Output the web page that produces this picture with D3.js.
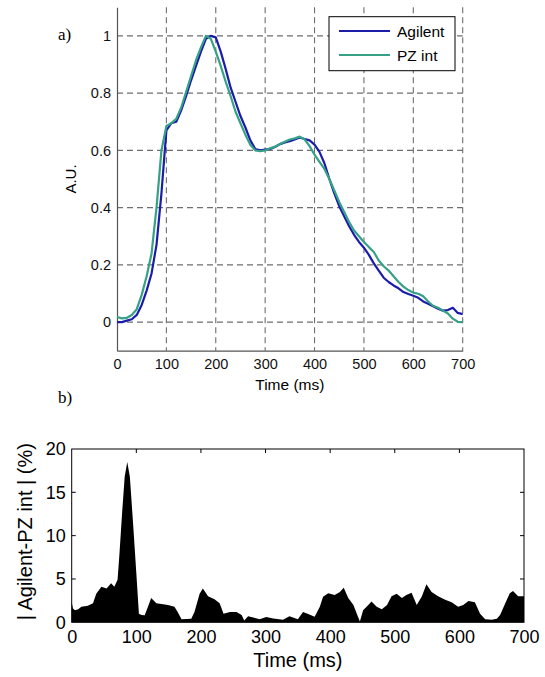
<!DOCTYPE html>
<html><head><meta charset="utf-8">
<script src="https://cdn.jsdelivr.net/npm/d3@7"></script>
<style>body{margin:0;background:#fff}svg{display:block}text{font-family:"Liberation Sans",Arial,sans-serif}</style>
</head><body>
<script>
// ---- Data ----
const timeA = d3.range(0, 701, 10);
const agilent = [0.00,0.00,0.005,0.01,0.025,0.06,0.11,0.17,0.27,0.45,0.67,0.695,0.70,0.74,0.79,0.845,0.895,0.945,0.99,1.0,0.995,0.945,0.885,0.82,0.77,0.72,0.68,0.635,0.605,0.60,0.603,0.605,0.612,0.622,0.628,0.632,0.638,0.645,0.64,0.635,0.62,0.595,0.555,0.50,0.45,0.405,0.37,0.335,0.305,0.28,0.26,0.235,0.205,0.18,0.155,0.14,0.128,0.118,0.105,0.098,0.092,0.085,0.072,0.064,0.055,0.047,0.04,0.042,0.05,0.032,0.028];
const pzInt = [0.018,0.013,0.015,0.025,0.045,0.095,0.16,0.24,0.40,0.60,0.685,0.695,0.71,0.75,0.805,0.86,0.915,0.96,1.0,0.99,0.945,0.895,0.84,0.79,0.735,0.695,0.655,0.62,0.60,0.597,0.60,0.607,0.613,0.622,0.63,0.638,0.642,0.648,0.638,0.615,0.585,0.56,0.535,0.50,0.46,0.42,0.385,0.35,0.32,0.30,0.28,0.262,0.245,0.215,0.195,0.18,0.16,0.14,0.124,0.112,0.103,0.099,0.09,0.072,0.057,0.05,0.04,0.03,0.012,0.001,0.0];
const diffTime = [0,2,5,10,15,25,33,38,46,54,61,66,71,74,78,82,86,90,95,100,104,108,113,118,123,131,139,149,159,164,170,185,190,198,203,211,221,229,235,245,255,263,267,273,281,291,301,312,327,337,350,358,366,376,384,389,397,407,415,421,428,436,442,446,451,459,464,472,480,488,495,503,511,518,526,534,542,549,557,567,578,588,598,606,614,624,632,640,650,658,663,671,678,683,691,699,700];
const diffValue = [2.3,1.6,1.4,1.5,1.8,1.9,2.2,3.3,4.1,3.9,4.5,4.1,4.9,8.0,12.6,16.8,18.5,16.8,11.4,5.7,1.0,0.85,0.8,1.8,2.8,2.2,2.1,2.0,1.8,1.2,0.35,0.4,1.2,3.3,3.9,3.0,2.65,2.2,1.0,1.2,1.2,0.85,0.2,0.7,0.55,0.35,0.6,0.45,0.3,0.7,0.35,1.2,0.95,0.65,1.8,2.95,3.35,3.15,3.5,4.0,2.8,2.0,0.85,0.1,1.4,2.0,2.4,1.8,1.5,2.0,3.0,3.3,2.8,3.15,3.4,2.0,3.0,4.4,3.5,3.0,2.6,2.3,1.8,2.0,2.45,2.3,1.0,0.35,0.3,0.4,0.85,2.2,3.35,3.6,3.0,3.0,3.0];
const seriesNames = ["Agilent","PZ int"];
const seriesColors = ["#1c1cab","#36a187"];
const topXTicks = [0,100,200,300,400,500,600,700];
const topYTicks = [0,0.2,0.4,0.6,0.8,1];
const botXTicks = [0,100,200,300,400,500,600,700];
const botYTicks = [0,5,10,15,20];

const W = 545, H = 677;
const svg = d3.select("body").append("svg").attr("width", W).attr("height", H);

// ---- Top chart ----
const xA = d3.scaleLinear().domain([0,700]).range([117,462.7]);
const yA = d3.scaleLinear().domain([-0.1,1.1]).range([350.7,7.3]);
const gridCol = "#6e6e6e";
const gTop = svg.append("g");
gTop.selectAll(".vg").data(topXTicks.filter(d=>d>0)).enter().append("line")
  .attr("x1", d=>xA(d)).attr("x2", d=>xA(d)).attr("y1", yA(1.1)).attr("y2", yA(-0.1))
  .attr("stroke", gridCol).attr("stroke-dasharray","6,4").attr("stroke-width",1.1);
gTop.selectAll(".hg").data(topYTicks).enter().append("line")
  .attr("x1", xA(0)).attr("x2", xA(700)).attr("y1", d=>yA(d)).attr("y2", d=>yA(d))
  .attr("stroke", gridCol).attr("stroke-dasharray","6,4").attr("stroke-width",1.1);
const axL = d3.axisLeft(yA).tickValues(topYTicks).tickSize(0).tickPadding(6).tickFormat(d=>d3.format("~g")(d));
const axB = d3.axisBottom(xA).tickValues(topXTicks).tickSize(0).tickPadding(8);
const gl = gTop.append("g").attr("transform",`translate(${xA(0)},0)`).call(axL);
const gb = gTop.append("g").attr("transform",`translate(0,${yA(-0.1)})`).call(axB);
[gl,gb].forEach(g=>{
  g.select(".domain").attr("stroke","#555").attr("stroke-width",1.2);
  g.selectAll("text").attr("font-size",14.5).attr("fill","#111").attr("font-family","Liberation Sans, Arial, sans-serif");
});
gTop.append("text").attr("transform",`translate(76,${(yA(1.1)+yA(-0.1))/2}) rotate(-90)`)
  .attr("text-anchor","middle").attr("font-size",15).text("A.U.");
gTop.append("text").attr("x",(xA(0)+xA(700))/2).attr("y",390).attr("text-anchor","middle")
  .attr("font-size",15.5).text("Time (ms)");
const lineA = d3.line().x((d,i)=>xA(timeA[i])).y(d=>yA(d));
[agilent, pzInt].forEach((s,k)=>{
  gTop.append("path").datum(s).attr("d", lineA).attr("fill","none")
    .attr("stroke", seriesColors[k]).attr("stroke-width",2.2).attr("stroke-linejoin","round");
});
const lg = gTop.append("g");
lg.append("rect").attr("x",329).attr("y",16.7).attr("width",126).attr("height",54)
  .attr("fill","#fff").attr("stroke","#000").attr("stroke-width",1);
seriesNames.forEach((n,k)=>{
  const yy = 31 + k*24;
  lg.append("line").attr("x1",339).attr("x2",390).attr("y1",yy).attr("y2",yy)
    .attr("stroke",seriesColors[k]).attr("stroke-width",2.2);
  lg.append("text").attr("x",397).attr("y",yy+5.5).attr("font-size",15.5).text(n);
});
svg.append("text").attr("x",58).attr("y",40)
  .style("font-family","Liberation Serif, serif").attr("font-size",17).text("a)");
svg.append("text").attr("x",58).attr("y",403)
  .style("font-family","Liberation Serif, serif").attr("font-size",17).text("b)");

// ---- Bottom chart ----
const xB = d3.scaleLinear().domain([0,700]).range([71.7,524]);
const yB = d3.scaleLinear().domain([0,20]).range([622.3,449]);
const gBot = svg.append("g");
const area = d3.area().x((d,i)=>xB(diffTime[i])).y0(yB(0)).y1(d=>yB(d));
gBot.append("path").datum(diffValue).attr("d", area).attr("fill","#000");
gBot.append("rect").attr("x",xB(0)).attr("y",yB(20)).attr("width",xB(700)-xB(0)).attr("height",yB(0)-yB(20))
  .attr("fill","none").attr("stroke","#000").attr("stroke-width",1);
const tl = 4;
gBot.selectAll(".tt").data(botXTicks.slice(1,-1)).enter().append("line")
  .attr("x1",d=>xB(d)).attr("x2",d=>xB(d)).attr("y1",yB(20)).attr("y2",yB(20)+tl).attr("stroke","#000");
gBot.selectAll(".rt").data(botYTicks.slice(1,-1)).enter().append("line")
  .attr("x1",xB(700)).attr("x2",xB(700)-tl).attr("y1",d=>yB(d)).attr("y2",d=>yB(d)).attr("stroke","#000");
gBot.selectAll(".lt").data(botYTicks.slice(1,-1)).enter().append("line")
  .attr("x1",xB(0)).attr("x2",xB(0)+tl).attr("y1",d=>yB(d)).attr("y2",d=>yB(d)).attr("stroke","#000");
const bL = d3.axisLeft(yB).tickValues(botYTicks).tickSize(0).tickPadding(6);
const bB = d3.axisBottom(xB).tickValues(botXTicks).tickSize(0).tickPadding(8);
const gbl = gBot.append("g").attr("transform",`translate(${xB(0)},0)`).call(bL);
const gbb = gBot.append("g").attr("transform",`translate(0,${yB(0)})`).call(bB);
[gbl,gbb].forEach(g=>{
  g.select(".domain").remove();
  g.selectAll("text").attr("font-size",18).attr("fill","#000").attr("font-family","Liberation Sans, Arial, sans-serif");
});
gBot.append("text").attr("transform",`translate(32,${(yB(0)+yB(20))/2 - 4}) rotate(-90)`)
  .attr("text-anchor","middle").attr("font-size",20).text("| Agilent-PZ int | (%)");
gBot.append("text").attr("x",(xB(0)+xB(700))/2).attr("y",667).attr("text-anchor","middle")
  .attr("font-size",20).text("Time (ms)");
</script>
</body></html>
